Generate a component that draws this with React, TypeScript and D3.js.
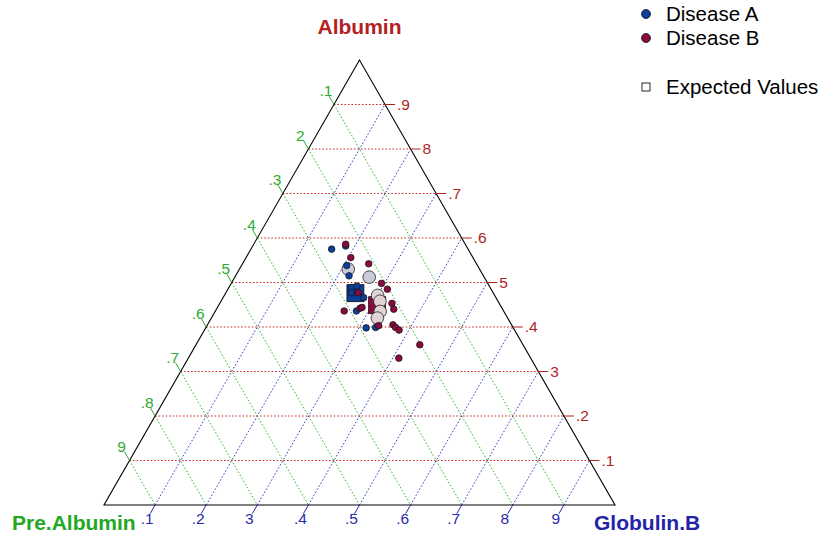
import React from "react";
import * as d3 from "d3";

// Compositions are [Pre.Albumin, Albumin, Globulin.B] fractions.
const diseaseA: number[][] = [
  [0.267, 0.575, 0.158],
  [0.236, 0.582, 0.182],
  [0.256, 0.538, 0.206],
  [0.263, 0.515, 0.222],
  [0.271, 0.489, 0.240],
  [0.259, 0.492, 0.249],
  [0.277, 0.477, 0.246],
  [0.259, 0.466, 0.275],
  [0.288, 0.436, 0.276],
  [0.288, 0.398, 0.314],
  [0.269, 0.399, 0.332],
];

const diseaseB: number[][] = [
  [0.235, 0.586, 0.180],
  [0.239, 0.556, 0.205],
  [0.211, 0.542, 0.247],
  [0.264, 0.477, 0.259],
  [0.208, 0.498, 0.294],
  [0.203, 0.485, 0.312],
  [0.312, 0.436, 0.252],
  [0.278, 0.442, 0.280],
  [0.273, 0.444, 0.283],
  [0.261, 0.403, 0.336],
  [0.210, 0.453, 0.337],
  [0.213, 0.440, 0.347],
  [0.232, 0.405, 0.363],
  [0.230, 0.399, 0.371],
  [0.226, 0.393, 0.381],
  [0.202, 0.360, 0.438],
  [0.258, 0.330, 0.412],
];

const meanA: number[] = [0.270, 0.476, 0.254];
const meanB: number[] = [0.241, 0.449, 0.310];

const expectedA: number[][] = [
  [0.257, 0.530, 0.213],
  [0.225, 0.512, 0.263],
];
const expectedB: number[][] = [
  [0.229, 0.471, 0.300],
  [0.231, 0.458, 0.311],
  [0.242, 0.435, 0.323],
  [0.255, 0.420, 0.325],
];

const gridLevels: number[] = [0.1, 0.2, 0.3, 0.4, 0.5, 0.6, 0.7, 0.8, 0.9];
const albuminTickLabels: string[] = [".1", ".2", "3", ".4", "5", ".6", ".7", "8", ".9"];
const preAlbuminTickLabels: string[] = [".1", "2", ".3", ".4", ".5", ".6", ".7", ".8", "9"];
const globulinTickLabels: string[] = [".1", ".2", "3", ".4", ".5", ".6", ".7", "8", "9"];

const legendItems: { label: string; color: string | null }[] = [
  { label: "Disease A", color: "#0b3f9a" },
  { label: "Disease B", color: "#8a0c3e" },
];

const COL_A = "#0b3f9a";
const COL_B = "#8a0c3e";
const EXP_A = "#c8ccda";
const EXP_B = "#dfd3d6";
const RED = "#b22222";
const GREEN = "#2eaa2e";
const BLUE = "#2a2aaa";

// Albumin sets the height, Globulin.B + Albumin/2 sets the horizontal position.
const yScale = d3.scaleLinear().domain([0, 1]).range([505, 60]);
const xScale = d3.scaleLinear().domain([0, 1]).range([104, 615]);

function project(p: number[]): [number, number] {
  const [, a, g] = p;
  return [xScale(g + a / 2), yScale(a)];
}

const dotted = "1.6 1.9";

export default function App() {
  const apex = project([0, 1, 0]);
  const left = project([1, 0, 0]);
  const right = project([0, 0, 1]);

  // unit directions along the grid families
  const len = Math.hypot(apex[0] - left[0], apex[1] - left[1]);
  const upLeft: [number, number] = [-(right[0] - apex[0]) / len, -(right[1] - apex[1]) / len];
  const downLeft: [number, number] = [(left[0] - apex[0]) / len, (left[1] - apex[1]) / len];

  const tickLen = 10;
  const labelOff = 16;

  return (
    <svg
      width={820}
      height={536}
      style={{ position: "absolute", left: 0, top: 0, fontFamily: "'Liberation Sans', Arial, sans-serif" }}
    >
      <rect width={820} height={536} fill="#fff" />

      {/* grid: Albumin (horizontal) */}
      {gridLevels.map((v) => {
        const [x1, y1] = project([1 - v, v, 0]);
        const [x2, y2] = project([0, v, 1 - v]);
        return <line key={"a" + v} x1={x1} y1={y1} x2={x2} y2={y2} stroke="#cc2a2a" strokeDasharray={dotted} strokeWidth={1} />;
      })}
      {/* grid: Pre.Albumin */}
      {gridLevels.map((v) => {
        const [x1, y1] = project([v, 1 - v, 0]);
        const [x2, y2] = project([v, 0, 1 - v]);
        return <line key={"p" + v} x1={x1} y1={y1} x2={x2} y2={y2} stroke="#33bb33" strokeDasharray={dotted} strokeWidth={1} />;
      })}
      {/* grid: Globulin.B */}
      {gridLevels.map((v) => {
        const [x1, y1] = project([1 - v, 0, v]);
        const [x2, y2] = project([0, 1 - v, v]);
        return <line key={"g" + v} x1={x1} y1={y1} x2={x2} y2={y2} stroke="#3a3acc" strokeDasharray={dotted} strokeWidth={1} />;
      })}

      <polygon
        points={[apex, left, right].map((p) => p.join(",")).join(" ")}
        fill="none"
        stroke="#000"
        strokeWidth={1.1}
      />

      {/* Albumin ticks on the right edge */}
      {gridLevels.map((v, i) => {
        const [x, y] = project([0, v, 1 - v]);
        return (
          <g key={"ta" + v}>
            <line x1={x} y1={y} x2={x + tickLen} y2={y} stroke={RED} strokeWidth={1} />
            <text x={x + 12} y={y} dy="0.35em" fontSize={15.5} fill={RED}>
              {albuminTickLabels[i]}
            </text>
          </g>
        );
      })}
      {/* Pre.Albumin ticks on the left edge */}
      {gridLevels.map((v, i) => {
        const [x, y] = project([v, 1 - v, 0]);
        return (
          <g key={"tp" + v}>
            <line x1={x} y1={y} x2={x + upLeft[0] * tickLen} y2={y + upLeft[1] * tickLen} stroke={GREEN} strokeWidth={1} />
            <text
              x={x + upLeft[0] * labelOff}
              y={y + upLeft[1] * labelOff}
              dy="0.35em"
              textAnchor="middle"
              fontSize={15.5}
              fill={GREEN}
            >
              {preAlbuminTickLabels[i]}
            </text>
          </g>
        );
      })}
      {/* Globulin.B ticks on the bottom edge */}
      {gridLevels.map((v, i) => {
        const [x, y] = project([1 - v, 0, v]);
        return (
          <g key={"tg" + v}>
            <line x1={x} y1={y} x2={x + downLeft[0] * tickLen} y2={y + downLeft[1] * tickLen} stroke={BLUE} strokeWidth={1} />
            <text
              x={x + downLeft[0] * labelOff}
              y={y + downLeft[1] * labelOff}
              dy="0.35em"
              textAnchor="middle"
              fontSize={15.5}
              fill={BLUE}
            >
              {globulinTickLabels[i]}
            </text>
          </g>
        );
      })}

      {/* axis titles */}
      <text x={apex[0]} y={27} dy="0.35em" textAnchor="middle" fontSize={21} fontWeight="bold" fill={RED}>
        Albumin
      </text>
      <text x={12} y={523} dy="0.35em" fontSize={21} fontWeight="bold" fill="#22a822">
        Pre.Albumin
      </text>
      <text x={594} y={523} dy="0.35em" fontSize={21} fontWeight="bold" fill="#2323a8">
        Globulin.B
      </text>

      {/* group means */}
      {[
        { p: meanA, c: COL_A },
        { p: meanB, c: COL_B },
      ].map(({ p, c }, i) => {
        const [x, y] = project(p);
        return <rect key={"m" + i} x={x - 8.5} y={y - 8.5} width={17} height={17} fill={c} stroke="#111" strokeWidth={0.8} />;
      })}

      {/* expected values */}
      {expectedA.map((p, i) => {
        const [x, y] = project(p);
        return <circle key={"ea" + i} cx={x} cy={y} r={6.3} fill={EXP_A} stroke="#222" strokeWidth={0.8} />;
      })}
      {expectedB.map((p, i) => {
        const [x, y] = project(p);
        return <circle key={"eb" + i} cx={x} cy={y} r={6.3} fill={EXP_B} stroke="#222" strokeWidth={0.8} />;
      })}

      {/* observations */}
      {diseaseA.map((p, i) => {
        const [x, y] = project(p);
        return <circle key={"da" + i} cx={x} cy={y} r={3.3} fill={COL_A} stroke="#111" strokeWidth={0.7} />;
      })}
      {diseaseB.map((p, i) => {
        const [x, y] = project(p);
        return <circle key={"db" + i} cx={x} cy={y} r={3.3} fill={COL_B} stroke="#111" strokeWidth={0.7} />;
      })}

      {/* legend */}
      {legendItems.map((d, i) => (
        <g key={d.label} transform={`translate(646, ${14 + i * 24})`}>
          <circle r={4.5} fill={d.color ?? "none"} stroke="#111" strokeWidth={0.8} />
          <text x={20} dy="0.35em" fontSize={20.5} fill="#000">
            {d.label}
          </text>
        </g>
      ))}
      <g transform="translate(646, 87)">
        <rect x={-4} y={-4} width={8} height={8} fill="#fff" stroke="#111" strokeWidth={0.9} />
        <text x={20} dy="0.35em" fontSize={20.5} fill="#000">
          Expected Values
        </text>
      </g>
    </svg>
  );
}
